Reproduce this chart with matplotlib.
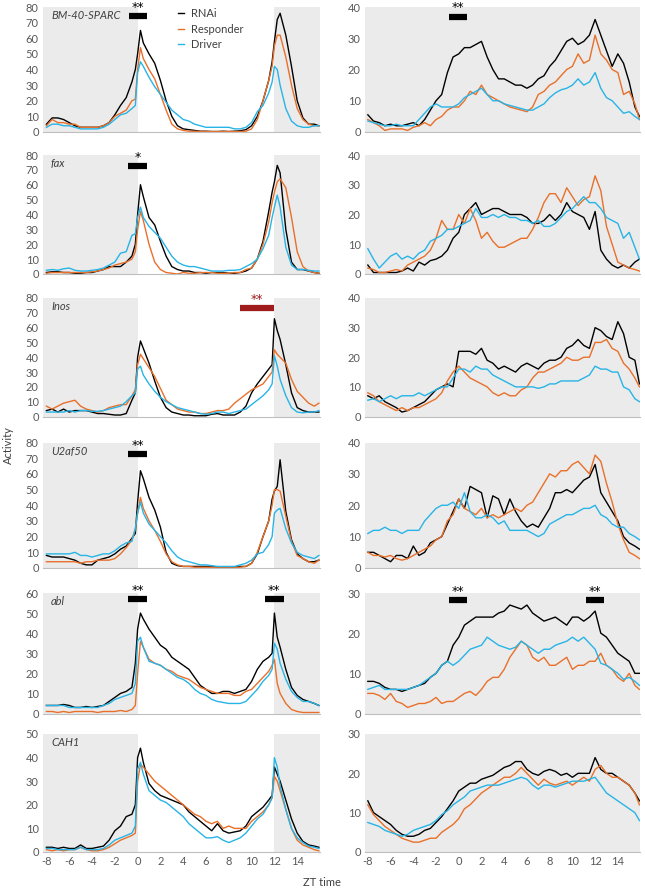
import numpy as np
import matplotlib
matplotlib.use("Agg")
import matplotlib.pyplot as plt

plt.rcParams['font.family'] = ['Lato', 'DejaVu Sans']
plt.rcParams['axes.unicode_minus'] = False

# ---- time grids (ZT hours) ----
x_ld = [-8, -7.5, -7, -6.5, -6, -5.5, -5, -4.5, -4, -3.5, -3, -2.5, -2, -1.5, -1, -0.5,
        -0.2, 0, 0.25,
        0.5, 1, 1.5, 2, 2.5, 3, 3.5, 4, 4.5, 5, 5.5,
        6, 6.5, 7, 7.5, 8, 8.5, 9, 9.5, 10, 10.5, 11, 11.5,
        11.8, 12, 12.25,
        12.5, 13, 13.5, 14, 14.5, 15, 15.5, 15.9]
x_dd = [-8, -7.5, -7, -6.5, -6, -5.5, -5, -4.5, -4, -3.5, -3, -2.5, -2, -1.5, -1, -0.5,
        0, 0.5, 1, 1.5, 2, 2.5, 3, 3.5, 4, 4.5, 5, 5.5, 6, 6.5, 7, 7.5,
        8, 8.5, 9, 9.5, 10, 10.5, 11, 11.5, 12, 12.5, 13, 13.5, 14, 14.5, 15, 15.5,
        15.9]

genes = ['BM-40-SPARC', 'fax', 'Inos', 'U2af50', 'abl', 'CAH1']
series_names = ['RNAi', 'Responder', 'Driver']

# ---- BM-40-SPARC ----
sparc_ld_rnai = [5, 9, 9, 8, 6, 4, 3, 3, 3, 3, 4, 6, 11, 17, 22, 32,
                 40, 50, 65,
                 57, 50, 44, 33, 20, 10, 4, 2, 1.5, 1, 0.5,
                 0.5, 0.3, 0.3, 0.5, 0.3, 0.5, 0.8, 1.5, 4, 10, 20, 33,
                 45, 58, 72,
                 76, 62, 42, 20, 9, 5, 5, 4]
sparc_ld_resp = [4, 8, 6, 6, 5, 5, 3, 3, 3, 3, 4, 6, 10, 12, 14, 20,
                 21, 40, 54,
                 47, 40, 34, 24, 14, 5, 2, 1, 0.5, 0.5, 0.3,
                 0.3, 0.3, 0.3, 0.3, 0.3, 0.3, 0.3, 0.5, 2, 8, 20, 33,
                 42, 55, 62,
                 62, 48, 30, 15, 8, 5, 4, 4]
sparc_ld_drv = [3, 5, 5, 4, 4, 3, 2, 2, 2, 2, 3, 5, 8, 11, 12, 15,
                17, 38, 45,
                42, 35, 29, 24, 19, 14, 11, 8, 7, 5, 4,
                3, 3, 3, 3, 3, 2, 2, 3, 6, 13, 17, 25,
                32, 42, 40,
                30, 15, 7, 4, 3, 3, 4, 4]
sparc_dd_rnai = [5.5, 3.5, 3, 2, 2.5, 2, 2, 2.5, 3, 2, 4, 7, 10, 12, 19, 24,
                 25, 27, 27, 28, 29, 24, 20, 17, 17, 16, 15, 15, 14, 15, 17, 18,
                 21, 23, 26, 29, 30, 28, 29, 31, 36, 31, 26, 21, 25, 22, 16, 8,
                 5]
sparc_dd_resp = [4, 3, 2, 0.5, 1, 1, 1, 0.5, 1.5, 2, 3, 2, 4, 5, 7, 8,
                 8, 10, 13, 12, 15, 12, 11, 10, 9, 8, 7.5, 7, 6.5, 8, 12, 13,
                 15, 16, 18, 20, 21, 25, 22, 23, 31, 25, 23, 20, 19, 12, 13, 9,
                 4]
sparc_dd_drv = [3.5, 3, 2.5, 2, 2, 2.5, 2, 2, 2, 4, 6, 8, 9, 8, 8, 8,
                9, 11, 12, 13, 14, 12, 10, 10, 9, 8.5, 8, 7.5, 7, 7, 8, 9,
                11, 12.5, 13.5, 14, 15, 17, 15, 16, 19, 14, 11, 10, 8, 6, 6.5, 5,
                4]

# ---- fax ----
fax_ld_rnai = [1, 1.5, 1.5, 1, 1, 0.5, 0.5, 1, 1, 2, 3, 5, 5, 5, 8, 12,
               20, 40, 60,
               52, 38, 33, 22, 12, 5, 3, 2, 2, 1, 1,
               0.5, 1, 1, 1, 0.5, 0.5, 1, 2, 4, 10, 22, 42,
               55, 62, 73,
               68, 30, 8, 3, 3, 2, 1, 0.5]
fax_ld_resp = [0.5, 1, 1, 1, 1, 1, 1, 1, 1.5, 2, 3, 4, 6, 7, 8, 10,
               15, 30, 42,
               36, 20, 8, 3, 1, 0.5, 0, 1, 0.5, 0.5, 1,
               1, 1, 0.5, 0.5, 0.5, 1, 1, 3, 4, 10, 20, 35,
               48, 55, 62,
               64, 58, 38, 15, 5, 2, 1, 0.5]
fax_ld_drv = [2.5, 3, 2.5, 3.5, 4, 2.5, 2, 2, 2.5, 3, 4, 6, 8, 14, 15, 26,
              27, 38, 45,
              38, 32, 28, 24, 18, 12, 8, 6, 5, 5, 4,
              3, 2, 2, 2, 2.5, 2.5, 3, 5, 7, 10, 17, 26,
              38, 45, 53,
              45, 18, 6, 3, 3, 2.5, 2, 2]
fax_dd_rnai = [3, 0.5, 0.5, 0.5, 0.5, 0.5, 1, 2, 1, 4, 3, 4.5, 5, 6, 8, 12,
               14, 20, 22, 24, 20, 21, 22, 22, 21, 20, 20, 20, 19, 17, 17, 18,
               20, 18, 20, 24, 21, 20, 19, 15, 21, 8, 5, 3, 2, 3, 2, 4,
               5]
fax_dd_resp = [2, 1.5, 0.5, 0.5, 1, 1.5, 1, 3, 4, 5, 6, 8, 12, 18, 15, 15,
               20, 17, 22, 18, 12, 14, 11, 9, 9, 10, 11, 12, 12, 15, 19, 24,
               27, 27, 24, 29, 26, 23, 25, 26, 33, 28, 16, 10, 4, 3, 2, 1.5,
               1]
fax_dd_drv = [8.5, 5, 2, 4, 6, 7, 5, 6, 5, 7, 8, 11, 12, 13, 15, 15,
              16, 17, 18, 22, 19, 19, 20, 19, 20, 19, 19, 18, 18, 17, 18, 16,
              16, 17, 19, 21, 22, 24, 26, 24, 24, 22, 19, 18, 17, 12, 14, 9,
              5]

# ---- Inos ----
inos_ld_rnai = [4, 5, 3, 5, 3, 4, 4, 4, 3, 2, 2, 1.5, 1, 1, 2, 11,
                16, 40, 51,
                46, 36, 24, 13, 6, 3, 2, 1, 1, 0.5, 0.5,
                0.5, 1.5, 2, 1, 1, 1, 3, 7, 16, 22, 27, 32,
                35, 66, 58,
                52, 35, 16, 6, 4, 3, 3, 3]
inos_ld_resp = [7, 5, 7, 9, 10, 11, 7, 5, 4, 3, 4, 6, 7, 8, 8, 14,
                18, 35, 42,
                39, 33, 27, 19, 11, 8, 5, 4, 3, 3, 2,
                2, 3, 4, 4, 5, 9, 12, 15, 18, 20, 22, 27,
                30, 45, 42,
                40, 36, 25, 17, 13, 9, 7, 9]
inos_ld_drv = [3, 3, 3, 3, 4, 3, 4, 4, 3.5, 3.5, 4, 5, 6, 7, 10, 14,
               16, 32, 34,
               28, 22, 17, 13, 10, 8, 6, 5, 4, 3, 2,
               1.5, 2, 3, 3, 2, 3, 4, 5, 8, 11, 14, 18,
               22, 41, 34,
               25, 14, 6, 3, 2.5, 3, 3, 4]
inos_dd_rnai = [7, 6, 7, 5, 4, 3, 1.5, 2, 3, 4, 5, 7, 9, 10, 11, 10,
                22, 22, 22, 21, 23, 19, 18, 16, 17, 16, 15, 17, 18, 17, 16, 18,
                19, 19, 20, 23, 24, 26, 24, 23, 30, 29, 27, 26, 32, 28, 20, 19,
                11]
inos_dd_resp = [8, 7, 5, 4, 3, 2, 3, 2, 3, 3, 4, 5, 6, 8, 12, 15,
                17, 15, 13, 12, 11, 10, 8, 7, 8, 7, 7, 9, 10, 13, 15, 15,
                16, 17, 18, 20, 19, 19, 20, 20, 25, 25, 26, 23, 22, 18, 16, 13,
                10]
inos_dd_drv = [5.5, 6, 5, 6, 7, 6, 7, 7, 7, 8, 7, 8, 9, 10, 10, 13,
               16, 16, 15, 17, 16, 16, 14, 13, 12, 11, 10, 10, 10, 10, 9.5, 10,
               11, 11, 12, 12, 12, 12, 13, 14, 17, 16, 16, 15, 15, 10, 9, 6,
               5]

# ---- U2af50 ----
u2af_ld_rnai = [8, 7, 7, 7, 6, 5, 3, 2, 2, 5, 6, 7, 9, 12, 14, 19,
                22, 42, 62,
                57, 45, 37, 26, 10, 3, 1.5, 1, 1, 1, 1,
                1, 1, 0.5, 0.5, 0.5, 0.5, 1, 1, 3, 9, 20, 30,
                44, 49, 52,
                69, 36, 18, 9, 6, 4, 4, 5]
u2af_ld_resp = [4, 4, 4, 4, 4, 4, 3, 4, 4, 5, 5, 5, 6, 9, 13, 18,
                25, 35, 45,
                38, 30, 24, 17, 9, 4, 2, 1, 1, 0.5, 0.5,
                0.5, 0.5, 0.5, 0.5, 0.5, 0.5, 0.5, 1, 3, 10, 20, 30,
                40, 50, 50,
                49, 33, 17, 8, 6, 4, 3, 5]
u2af_ld_drv = [9, 9, 9, 9, 9, 10, 8, 8, 7, 8, 9, 9, 11, 14, 16, 17,
               25, 35, 42,
               35, 28, 24, 20, 16, 11, 7, 5, 4, 3, 2,
               2, 1.5, 1, 1, 1, 1, 2, 3, 5, 9, 10, 15,
               20, 35, 37,
               38, 25, 16, 10, 8, 7, 6, 8]
u2af_dd_rnai = [5, 5, 4, 3, 2, 4, 4, 3, 7, 4, 5, 8, 9, 10, 14, 18,
                22, 19, 26, 25, 24, 16, 23, 22, 17, 22, 18, 15, 13, 14, 13, 16,
                19, 24, 24, 25, 24, 26, 28, 29, 33, 24, 21, 18, 15, 10, 8, 7,
                6]
u2af_dd_resp = [5, 4, 4, 3.5, 4, 3, 2.5, 3, 4, 5, 6, 7, 9, 10, 15, 17,
                22, 19, 18, 17, 19, 16, 17, 16, 17, 18, 19, 18, 20, 21, 24, 27,
                30, 29, 31, 31, 33, 34, 32, 30, 36, 34, 27, 21, 14, 9, 5, 4,
                3]
u2af_dd_drv = [11, 12, 12, 13, 12, 12, 11, 12, 12, 12, 15, 17, 19, 20, 20, 21,
               19, 24, 18, 16, 16, 17, 16, 14, 15, 12, 12, 12, 12, 11, 10, 11,
               14, 15, 16, 17, 17, 18, 19, 19, 20, 17, 16, 14, 13, 13, 11, 10,
               9]

# ---- abl ----
abl_ld_rnai = [4, 4, 4, 4.5, 4, 3, 3, 3.5, 3, 3.5, 4, 6, 8, 10, 11, 13,
               25, 42, 50,
               47, 42, 38, 34, 32, 28, 26, 24, 22, 18, 14,
               12, 10, 10, 11, 11, 10, 11, 12, 16, 22, 26, 28,
               30, 50, 38,
               33, 22, 13, 9, 7, 6, 5, 4]
abl_ld_resp = [1, 1, 0.5, 1, 0.5, 1, 1, 1, 1, 0.5, 1, 1, 1, 1.5, 1, 2,
               4, 20, 36,
               33, 27, 25, 24, 22, 21, 19, 18, 17, 15, 13,
               12, 11, 10, 10, 10, 9, 9, 11, 12, 15, 18, 21,
               24, 27, 15,
               10, 5, 2, 1, 0.5, 0.5, 0.5, 0.5]
abl_ld_drv = [4, 4, 4, 4, 3, 3, 3, 3, 3, 3, 4, 5, 7, 8, 9, 10,
              15, 36, 38,
              33, 26, 25, 24, 22, 20, 18, 17, 15, 12, 10,
              9, 7, 6, 5.5, 5, 5, 5, 6, 9, 12, 16, 19,
              22, 35, 32,
              25, 17, 11, 8, 6, 6, 5, 4]
abl_dd_rnai = [8, 8, 7.5, 6.5, 6, 6, 5.5, 6, 6.5, 7, 7.5, 9, 10, 12, 13, 17,
               19, 22, 23, 24, 24, 24, 24, 25, 25.5, 27, 26.5, 26, 27, 25, 24, 23,
               23.5, 24, 23, 22, 24, 24, 23, 24, 25.5, 20, 19, 17, 15, 14, 13, 10,
               10]
abl_dd_resp = [5, 5, 4.5, 3.5, 5, 3, 2.5, 1.5, 2, 2.5, 2.5, 3, 4, 2.5, 3, 3,
               4, 5, 5.5, 4.5, 6, 8, 9, 9, 11, 14, 16, 18, 17, 14, 13, 14,
               12, 12, 13, 14, 11, 12, 12, 13, 13, 15, 12, 11, 9, 8, 10, 7,
               6]
abl_dd_drv = [6, 6.5, 7, 6, 6, 6, 6, 6, 6.5, 7, 8, 9, 10, 12, 13, 12,
              13, 14.5, 16, 16.5, 17, 19, 18, 17, 16.5, 16, 16.5, 18, 17, 16, 15, 16,
              16, 17, 17.5, 18, 19, 18, 19, 17.5, 16, 12.5, 12, 11, 10, 8.5, 9, 8,
              7]

# ---- CAH1 ----
cah1_ld_rnai = [2, 2, 1.5, 2, 1.5, 1.5, 3, 1.5, 1.5, 2, 2.5, 5, 9, 11, 15, 16,
                20, 40, 44,
                38, 29, 26, 24, 23, 22, 21, 20, 17, 15, 13,
                11, 9, 12, 9, 8, 8.5, 9, 11, 15, 17, 19, 22,
                24, 36, 33,
                30, 22, 14, 8, 4.5, 3, 2.5, 2]
cah1_ld_resp = [1, 0.5, 1, 0.5, 1, 1, 2, 1, 0.5, 0.5, 1, 2, 3.5, 5, 6, 7,
                8, 30, 37,
                36, 33, 30, 28, 26, 24, 22, 20, 18, 16, 15,
                13, 12, 13, 10, 11, 10, 10, 10, 13, 15, 17, 20,
                23, 32, 30,
                26, 18, 10, 5, 3, 2, 1, 0.5]
cah1_ld_drv = [1.5, 1.5, 1, 1, 1, 1, 2, 1, 1, 1, 1.5, 3, 5, 6, 7, 8,
               11, 35, 38,
               33, 26, 24, 22, 21, 19, 17, 15, 12, 10, 8,
               6, 6, 6.5, 5, 4, 5, 6, 8, 11, 14, 16, 20,
               23, 40, 36,
               28, 18, 10, 6, 4, 2.5, 2, 1.5]
cah1_dd_rnai = [13, 10, 9, 8, 7, 5.5, 4.5, 4, 4, 4.5, 5.5, 6, 7.5, 9, 11, 13,
                15.5, 16.5, 17.5, 17.5, 18.5, 19, 19.5, 20.5, 21.5, 22, 23, 23, 21, 20, 19.5, 20.5,
                21, 20.5, 19.5, 20, 19, 20, 20, 20, 24, 21, 20, 20, 19, 18, 17, 15,
                13]
cah1_dd_resp = [12, 9.5, 8, 6.5, 5.5, 4.5, 3.5, 3, 2.5, 2.5, 3, 3.5, 3.5, 5, 6, 7,
                8.5, 11, 12, 13.5, 15, 16, 17, 18, 19, 19, 20, 21.5, 20, 18.5, 17, 18.5,
                17.5, 17, 17.5, 18, 17, 18, 19, 18, 21, 22, 20, 19, 19, 18, 17, 15,
                12]
cah1_dd_drv = [7.5, 7, 6.5, 5.5, 5, 4.5, 4, 4.5, 5.5, 6, 6.5, 7, 8, 9.5, 10.5, 12,
               13, 14, 15.5, 16, 16.5, 17, 17, 17, 17.5, 18, 18.5, 19, 18.5, 17, 16, 17,
               17, 16.5, 17, 17.5, 18, 18, 18, 18.5, 19, 17, 15, 14, 13, 12, 11, 10,
               8]

ld_data = [(sparc_ld_rnai, sparc_ld_resp, sparc_ld_drv),
           (fax_ld_rnai, fax_ld_resp, fax_ld_drv),
           (inos_ld_rnai, inos_ld_resp, inos_ld_drv),
           (u2af_ld_rnai, u2af_ld_resp, u2af_ld_drv),
           (abl_ld_rnai, abl_ld_resp, abl_ld_drv),
           (cah1_ld_rnai, cah1_ld_resp, cah1_ld_drv)]
dd_data = [(sparc_dd_rnai, sparc_dd_resp, sparc_dd_drv),
           (fax_dd_rnai, fax_dd_resp, fax_dd_drv),
           (inos_dd_rnai, inos_dd_resp, inos_dd_drv),
           (u2af_dd_rnai, u2af_dd_resp, u2af_dd_drv),
           (abl_dd_rnai, abl_dd_resp, abl_dd_drv),
           (cah1_dd_rnai, cah1_dd_resp, cah1_dd_drv)]

ld_ymax = [80, 80, 80, 80, 60, 50]
dd_ymax = [40, 40, 40, 40, 30, 30]

# significance bars: (row, column, x0, x1, y, label, colour)
sig_bars = [(0, 0, -0.75, 0.85, 74, '**', 'black'),
            (0, 1, -0.85, 0.75, 36.8, '**', 'black'),
            (1, 0, -0.8, 0.8, 72.5, '*', 'black'),
            (2, 0, 9.0, 12.0, 73, '**', '#a01c1c'),
            (3, 0, -0.8, 0.8, 72.5, '**', 'black'),
            (4, 0, -0.8, 0.8, 56.8, '**', 'black'),
            (4, 0, 11.2, 12.8, 56.8, '**', 'black'),
            (4, 1, -0.85, 0.75, 28.2, '**', 'black'),
            (4, 1, 11.2, 12.8, 28.2, '**', 'black')]

colors = ['black', '#e8702a', '#27b4e6']
shade = '#ebebeb'
tick_col = '#595959'
fs = 8

# ---- layout (pixels) ----
W, H = 645, 891
rows_px = [(7, 132), (155, 274), (298, 416.5), (442.5, 568), (593, 713.5), (734, 852)]
cols_px = [(43, 320), (365, 640)]
xlims = [(-8.3, 16.0), (-8.25, 15.95)]

fig = plt.figure(figsize=(W / 100, H / 100), dpi=100)
axes = {}
for r, (top, bot) in enumerate(rows_px):
    for c, (lft, rgt) in enumerate(cols_px):
        ax = fig.add_axes([lft / W, 1 - bot / H, (rgt - lft) / W, (bot - top) / H])
        axes[(r, c)] = ax
        xs = x_ld if c == 0 else x_dd
        data = ld_data[r] if c == 0 else dd_data[r]
        ymax = ld_ymax[r] if c == 0 else dd_ymax[r]
        assert all(len(s) == len(xs) for s in data)
        if c == 0:
            ax.axvspan(xlims[0][0], 0, color=shade, lw=0, zorder=0)
            ax.axvspan(12, xlims[0][1], color=shade, lw=0, zorder=0)
        else:
            ax.set_facecolor(shade)
        for s, col, name in zip(data, colors, series_names):
            ax.plot(xs, s, color=col, lw=1.0, label=name, zorder=2)
        ax.set_xlim(*xlims[c])
        ax.set_ylim(0, ymax)
        ax.set_yticks(np.arange(0, ymax + 1, 10))
        ax.set_xticks(np.arange(-8, 15, 2))
        ax.tick_params(length=0, labelsize=fs, colors=tick_col, pad=3)
        if r < 5:
            ax.set_xticklabels([])
        for sp in ['top', 'right', 'left']:
            ax.spines[sp].set_visible(False)
        ax.spines['bottom'].set_color('#bfbfbf')
        ax.spines['bottom'].set_linewidth(0.8)
        if c == 0:
            ax.text(-7.6, ymax * 0.93, genes[r], style='italic', fontsize=fs,
                    color='#404040', va='center', ha='left', zorder=3)

for r, c, x0, x1, y, lab, col in sig_bars:
    ax = axes[(r, c)]
    ax.plot([x0, x1], [y, y], color=col, lw=4.5, solid_capstyle='butt',
            zorder=4, clip_on=False)
    ax.text((x0 + x1) / 2, y + ax.get_ylim()[1] * 0.02, lab, color=col,
            fontsize=9, family='DejaVu Sans', ha='center', va='bottom',
            zorder=4, clip_on=False)

leg = axes[(0, 0)].legend(loc='upper left', bbox_to_anchor=(0.485, 1.0),
                          frameon=False, fontsize=fs, handlelength=0.5,
                          handletextpad=0.6, labelspacing=0.4, borderpad=0.1,
                          borderaxespad=0)
for t in leg.get_texts():
    t.set_color('#404040')

fig.text(8 / W, 1 - 445 / H, 'Activity', rotation=90, fontsize=fs,
         color='#404040', ha='center', va='center')
fig.text(322 / W, 1 - 883 / H, 'ZT time', fontsize=fs, color='#404040',
         ha='center', va='center')

fig.savefig('out.png', dpi=100)
